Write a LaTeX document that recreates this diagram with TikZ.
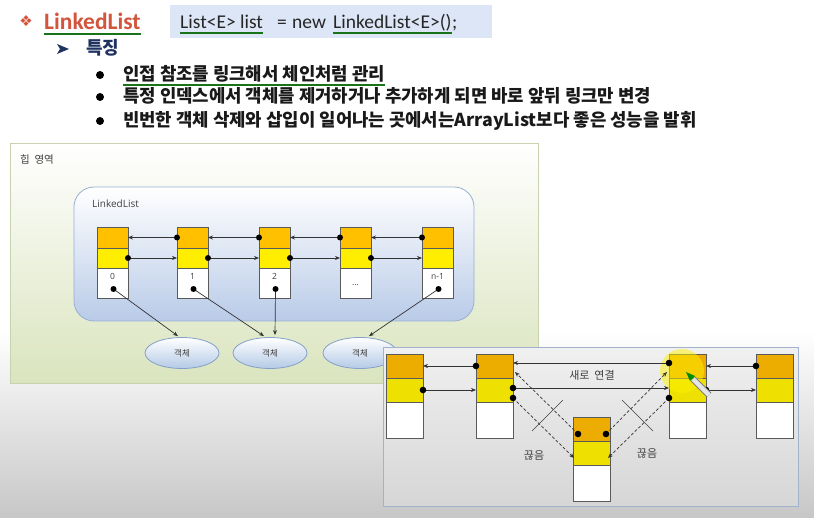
\documentclass[tikz,border=0pt]{standalone}
\usepackage{fontspec}
\setmainfont{Noto Sans CJK KR}
\newfontfamily\calfont{Carlito}
\newfontfamily\dejafont{DejaVu Sans}
\newfontfamily\osfont{Open Sans}
\usetikzlibrary{calc,arrows.meta,shapes.geometric}
\definecolor{orgC}{RGB}{255,192,0}
\definecolor{yelC}{RGB}{255,238,0}
\definecolor{orgP}{RGB}{236,172,0}
\definecolor{yelP}{RGB}{238,224,0}
\definecolor{cellB}{RGB}{90,90,90}
\definecolor{ugreen}{RGB}{25,115,25}
\definecolor{navy}{RGB}{31,50,96}
\definecolor{titleC}{RGB}{210,85,60}
\definecolor{codeBG}{RGB}{221,230,246}
\definecolor{heapB}{RGB}{200,210,175}
\definecolor{heapBot}{RGB}{218,228,190}
\definecolor{llB}{RGB}{150,175,212}
\definecolor{llBot}{RGB}{185,203,232}
\definecolor{objB}{RGB}{130,160,200}
\definecolor{objBot}{RGB}{180,202,230}
\definecolor{panB}{RGB}{160,178,205}
\definecolor{panT}{RGB}{240,240,240}
\definecolor{panBot}{RGB}{214,214,214}
\definecolor{txtG}{RGB}{64,64,64}
\begin{document}
\begin{tikzpicture}[x=1pt,y=-1pt,
  cellbase/.style={draw=cellB, line width=0.7pt, inner sep=0pt, outer sep=0pt, anchor=north west, minimum width=31pt},
  hp/.style={cellbase, fill=orgC, minimum height=21pt},
  hn/.style={cellbase, fill=yelC, minimum height=20pt},
  hd/.style={cellbase, fill=white, minimum height=30pt},
  pbase/.style={draw=cellB, line width=0.8pt, inner sep=0pt, outer sep=0pt, anchor=north west, minimum width=37pt},
  pp/.style={pbase, fill=orgP, minimum height=24pt},
  pn/.style={pbase, fill=yelP, minimum height=24pt},
  pd/.style={pbase, fill=white, minimum height=36pt},
  ptr/.style={-{Stealth[length=5pt,width=4pt]}, line width=0.7pt, draw=black!80},
  dptr/.style={ptr, dashed, dash pattern=on 3pt off 2pt},
  lbl/.style={font=\osfont\fontsize{8.5}{9}\selectfont, text=txtG, inner sep=0pt},
  obj/.style={ellipse, draw=objB, line width=0.8pt, top color=white, bottom color=objBot, minimum width=74pt, minimum height=31pt, inner sep=0pt, font=\fontsize{8.5}{9}\selectfont, text=txtG},
  plbl/.style={font=\fontsize{11}{11}\selectfont, text=txtG, inner sep=0pt},
  line/.style={anchor=base west, inner sep=0pt, font=\bfseries\fontsize{17.8}{18}\selectfont, text=black!90},
  code/.style={anchor=base west, inner sep=0pt, font=\calfont\fontsize{19.5}{19.5}\selectfont, text=black!85}
]
\useasboundingbox (0,0) rectangle (814,518);
\fill[white] (0,0) rectangle (814,518);
\shade[top color=white, bottom color=black!22] (0,330) rectangle (814,518);

% ---- header ----
\node[text=titleC, font=\dejafont\fontsize{15}{15}\selectfont, inner sep=0pt] (dia) at (26,21) {❖};
\node[anchor=base west, inner sep=0pt, text=titleC, font=\calfont\bfseries\fontsize{23.5}{23.5}\selectfont] (title) at (44,30) {LinkedList};
\draw[ugreen, line width=1.8pt] ($(title.base west)+(0,4)$) -- ($(title.base east)+(0,4)$);

\fill[codeBG] (170,5) rectangle (492,38);
\node[code] (c1) at (180,29) {List<E> list};
\node[code] (c2) at (277,29) {=};
\node[code] (c2b) at (292,29) {new};
\node[code] (c3) at (333,29) {LinkedList<E>()};
\node[code] (c4) at (c3.base east) {;};
\draw[ugreen, line width=1.8pt] ($(c1.base west)+(0,4)$) -- ($(c1.base east)+(0,4)$);
\draw[ugreen, line width=1.8pt] ($(c3.base west)+(0,4)$) -- ($(c3.base east)+(0,4)$);

\fill[navy] (57,44) -- (69,49) -- (57,54) -- (60,49) -- cycle;
\node[anchor=base west, inner sep=0pt, font=\bfseries\fontsize{18}{18}\selectfont, text=navy] (feat) at (86,55) {특징};

\fill[black] (100,75) circle (4pt);
\fill[black] (100,97) circle (4pt);
\fill[black] (100,121) circle (4pt);
\node[line] (l1) at (123,81) {인접 참조를 링크해서 체인처럼 관리};
\node[line] (l2) at (123,103) {특정 인덱스에서 객체를 제거하거나 추가하게 되면 바로 앞뒤 링크만 변경};
\node[line] (l3) at (123,127) {빈번한 객체 삭제와 삽입이 일어나는 곳에서는ArrayList보다 좋은 성능을 발휘};
\draw[ugreen, line width=1.8pt] ($(l1.base west)+(0,4)$) -- ($(l1.base east)+(0,4)$);

% ---- heap area ----
\path[draw=heapB, line width=0.8pt, top color=white, bottom color=heapBot] (10,143) rectangle (538,383);
\node[anchor=west, inner sep=0pt, font=\fontsize{10.5}{11}\selectfont, text=txtG] (heap) at (20,160) {힙\ \ 영역};
\path[draw=llB, line width=0.8pt, rounded corners=20pt, top color=white, bottom color=llBot] (74,187) rectangle (474,321);
\node[anchor=west, inner sep=0pt, font=\osfont\fontsize{10}{10}\selectfont, text=txtG] (llname) at (92,204) {LinkedList};

\foreach \i/\x in {0/97,1/177,2/259,3/340,4/422} {
  \node[hp] (hp\i) at (\x,227) {};
  \node[hn] (hn\i) at (\x,248) {};
  \node[hd] (hd\i) at (\x,268) {};
}
\node[lbl] (hl0) at ($(hd0.north)+(0,8)$) {0};
\node[lbl] (hl1) at ($(hd1.north)+(0,8)$) {1};
\node[lbl] (hl2) at ($(hd2.north)+(0,8)$) {2};
\node[lbl] (hl3) at ($(hd3.north)+(0,17)$) {...};
\node[lbl] (hl4) at ($(hd4.north)+(0,8)$) {n-1};
\foreach \i in {0,1,2,4} { \coordinate (hq\i) at ($(hd\i.north)+(1,21)$); }

\foreach \i/\j in {1/0,2/1,3/2,4/3} {
  \draw[ptr] (hp\i.west) -- (hp\j.east);
  \fill (hp\i.west) circle (3pt);
}
\foreach \i/\j in {0/1,1/2,2/3,3/4} {
  \draw[ptr] (hn\i.east) -- (hn\j.west);
  \fill (hn\i.east) circle (3pt);
}

\node[obj] (o1) at (182,353) {객체};
\node[obj] (o2) at (270,353) {객체};
\node[obj] (o3) at (360,353) {객체};
\draw[ptr] (hq0) -- ($(o1.north)+(-4,-1)$);
\draw[ptr] (hq1) -- ($(o2.north)+(-6,-1)$);
\draw[ptr] (hq2) -- ($(o2.north)+(5,-2)$);
\draw[ptr] (hq4) -- ($(o3.north)+(9,-1)$);
\foreach \i in {0,1,2,4} { \fill (hq\i) circle (3pt); }

% ---- insertion panel ----
\path[draw=panB, line width=1pt, top color=panT, bottom color=panBot] (383,348) rectangle (798,506);
\foreach \n/\x in {A/386,B/476,C/669,D/756} {
  \node[pp] (pp\n) at (\x,354) {};
  \node[pn] (pn\n) at (\x,378) {};
  \node[pd] (pd\n) at (\x,402) {};
}
\node[pp] (ppM) at (573,417) {};
\node[pn] (pnM) at (573,441) {};
\node[pd] (pdM) at (573,465) {};

\fill[yellow, opacity=0.5] (682,371) circle (22pt);

\draw[ptr] (ppB.west) -- (ppA.east); \fill (ppB.west) circle (3.3pt);
\draw[ptr] (pnA.east) -- (pnB.west); \fill (pnA.east) circle (3.3pt);
\coordinate (cL) at ($(ppC.west)+(0,-3)$);
\draw[ptr] (cL) -- ($(ppB.east)+(0,-3)$); \fill (cL) circle (3.3pt);
\coordinate (bR) at ($(pnB.east)+(0,-2)$);
\draw[ptr] (bR) -- ($(pnC.west)+(0,-2)$); \fill (bR) circle (3.3pt);
\draw[ptr] (pnC.east) -- (pnD.west); \fill (pnC.east) circle (3.3pt);
\draw[ptr] (ppD.west) -- (ppC.east); \fill (ppD.west) circle (3.3pt);

\coordinate (b2) at ($(pnB.east)+(0,8)$);
\coordinate (m1) at ($(ppM.west)+(5,5)$);
\coordinate (m2) at ($(ppM.east)+(-4,5)$);
\coordinate (c2) at ($(pnC.west)+(0,8)$);
\draw[dptr] (b2) -- ($(pnM.west)+(1,5)$);
\draw[dptr] (m1) -- ($(ppB.east)+(2,6)$);
\draw[dptr] (m2) -- ($(ppC.west)+(-2,6)$);
\draw[dptr] (c2) -- ($(pnM.east)+(-2,5)$);
\foreach \c in {b2,m1,m2,c2} { \fill (\c) circle (3.3pt); }

\draw[line width=0.6pt, black!75] (532,431) -- (563,400);
\draw[line width=0.6pt, black!75] (622,400) -- (653,431);

\node[plbl] (newlink) at (592,375) {새로\ \ 연결};
\node[plbl] (cut1) at (534,455) {끊음};
\node[plbl] (cut2) at (647,453) {끊음};

% pencil cursor
\draw[line width=6.5pt, black!50] (693,379) -- (709,395);
\draw[line width=4.5pt, black!10] (693,379) -- (709,395);
\fill[green!55!black] (686,372) -- (695,376) -- (690,381) -- cycle;
\end{tikzpicture}
\end{document}
